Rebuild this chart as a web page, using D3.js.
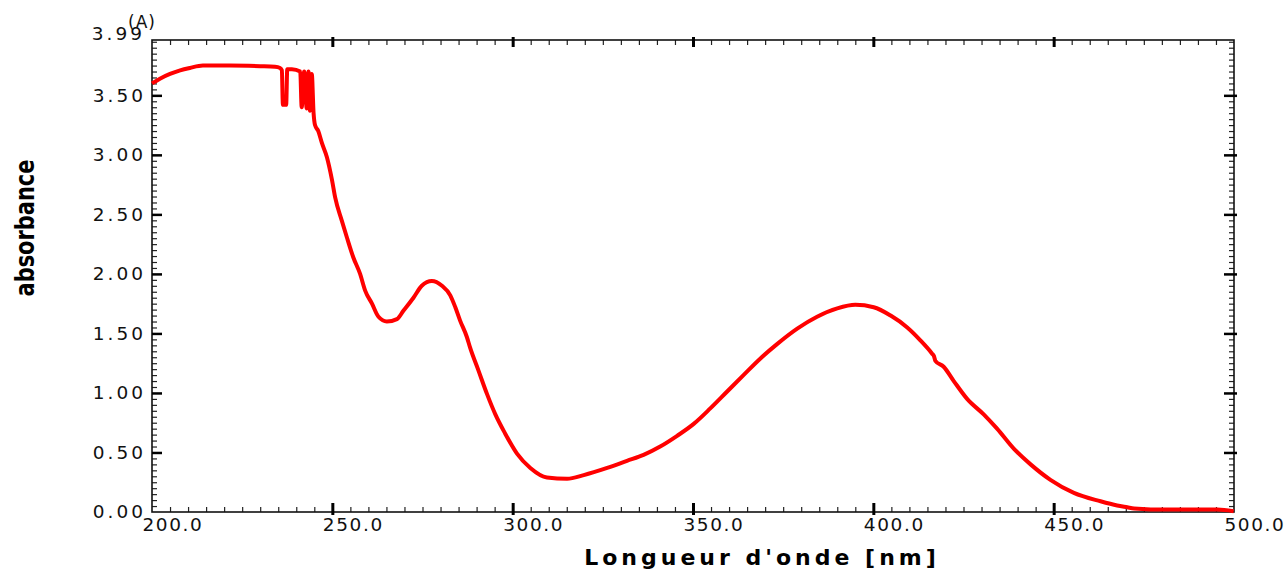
<!DOCTYPE html>
<html>
<head>
<meta charset="utf-8">
<script src="https://cdn.jsdelivr.net/npm/d3@7"></script>
<style>
  body { margin: 0; background: #fff; }
  svg text { font-family: "DejaVu Sans", sans-serif; }
</style>
</head>
<body>
<svg id="chart" width="1284" height="571"></svg>
<script>
// spectrum: wavelength (nm) / absorbance (A)
const wavelength = [
  200.0, 202.2, 205.0, 207.8, 210.5, 214.1, 221.6, 230.0, 234.1, 235.5,
  236.0, 236.3, 237.2, 237.5, 238.8, 241.1, 241.5, 242.2, 242.9, 243.4,
  243.8, 244.3, 244.8, 245.2, 246.1, 247.1, 248.5, 249.9, 250.8, 252.6,
  254.0, 255.8, 257.7, 259.1, 261.0, 262.8, 265.1, 267.9, 269.7, 272.5,
  274.8, 277.6, 280.4, 282.7, 284.1, 285.4, 287.3, 288.2, 290.5, 292.9,
  295.2, 297.9, 301.2, 304.9, 309.5, 315.1, 319.7, 326.2, 331.7, 336.3,
  340.9, 345.6, 350.2, 354.8, 359.4, 364.0, 368.7, 373.3, 378.9, 384.4,
  390.0, 395.0, 400.1, 404.8, 409.4, 413.1, 416.3, 416.8, 417.2, 419.5,
  422.3, 426.0, 430.6, 434.3, 439.0, 443.6, 449.1, 455.6, 463.0, 467.6,
  470.4, 472.3, 481.5, 495.4, 499.9
];
const absorbance = [
  3.60, 3.64, 3.68, 3.71, 3.73, 3.75, 3.75, 3.745, 3.74, 3.73,
  3.71, 3.42, 3.42, 3.72, 3.72, 3.70, 3.40, 3.70, 3.39, 3.70,
  3.37, 3.68, 3.35, 3.25, 3.20, 3.10, 2.98, 2.79, 2.64, 2.45,
  2.31, 2.14, 2.00, 1.86, 1.75, 1.64, 1.60, 1.62, 1.69, 1.80,
  1.90, 1.94, 1.90, 1.82, 1.72, 1.61, 1.47, 1.38, 1.19, 0.99,
  0.82, 0.66, 0.49, 0.37, 0.29, 0.28, 0.31, 0.37, 0.43, 0.48,
  0.55, 0.64, 0.74, 0.87, 1.01, 1.15, 1.29, 1.41, 1.54, 1.64,
  1.71, 1.74, 1.72, 1.65, 1.55, 1.44, 1.33, 1.31, 1.27, 1.22,
  1.10, 0.95, 0.82, 0.70, 0.53, 0.40, 0.27, 0.16, 0.09, 0.055,
  0.04, 0.03, 0.02, 0.02, 0.007
];

const xMajor = [200, 250, 300, 350, 400, 450, 500];
const yMajor = [0, 0.5, 1.0, 1.5, 2.0, 2.5, 3.0, 3.5];
const yTop = 3.99;

const svg = d3.select('#chart');
const plotL = 152, plotR = 1234, plotT = 40, plotB = 512;

const x = d3.scaleLinear().domain([200, 500]).range([plotL, plotR]);
const y = d3.scaleLinear().domain([0, yTop]).range([plotB, 37]);

const xMinor = d3.range(205, 500, 5).filter(v => v % 50 !== 0);
const yMinor = d3.range(1, 80).map(i => +(i * 0.05).toFixed(2))
  .filter(v => Math.round(v * 100) % 50 !== 0 && v < 3.97);

// minor ticks, all four sides, pointing inward
function minorAxis(axis, values, tx, ty) {
  svg.append('g').attr('transform', `translate(${tx},${ty})`)
    .call(axis.tickValues(values).tickSize(-5).tickSizeOuter(0).tickFormat(''))
    .call(g => g.select('.domain').remove())
    .call(g => g.selectAll('.tick line').attr('stroke', '#222').attr('stroke-width', 1.2));
}
minorAxis(d3.axisBottom(x), xMinor, 0, plotB);
minorAxis(d3.axisTop(x), xMinor, 0, plotT);
minorAxis(d3.axisLeft(y), yMinor, plotL, 0);
minorAxis(d3.axisRight(y), yMinor, plotR, 0);

// frame
svg.append('rect')
  .attr('x', plotL).attr('y', plotT)
  .attr('width', plotR - plotL).attr('height', plotB - plotT)
  .attr('fill', 'none').attr('stroke', '#111').attr('stroke-width', 1.6);

// major x ticks + labels (labels sit left-aligned just before the tick)
const gx = svg.append('g').attr('transform', `translate(0,${plotB})`)
  .call(d3.axisBottom(x).tickValues(xMajor).tickSize(-9).tickSizeOuter(0)
    .tickFormat(d3.format('.1f')));
gx.select('.domain').remove();
gx.selectAll('.tick line').attr('y2', -9).attr('y1', 3)
  .attr('stroke', '#000').attr('stroke-width', 3)
  .filter(d => d === 200 || d === 500).remove();
gx.selectAll('.tick text')
  .attr('text-anchor', 'start').attr('x', -10).attr('y', 6).attr('dy', '0.71em')
  .attr('fill', '#111').style('font-size', '18.5px').style('letter-spacing', '1.6px');

const gxt = svg.append('g').attr('transform', `translate(0,${plotT})`)
  .call(d3.axisTop(x).tickValues(xMajor.slice(1, -1)).tickSize(-7).tickSizeOuter(0).tickFormat(''));
gxt.select('.domain').remove();
gxt.selectAll('.tick line').attr('y1', -3).attr('y2', 7).attr('stroke', '#000').attr('stroke-width', 3);

// major y ticks + labels
const gy = svg.append('g').attr('transform', `translate(${plotL},0)`)
  .call(d3.axisLeft(y).tickValues(yMajor).tickSize(-10).tickSizeOuter(0)
    .tickFormat(d3.format('.2f')));
gy.select('.domain').remove();
gy.selectAll('.tick line').attr('x1', 0).attr('x2', 10)
  .attr('stroke', '#000').attr('stroke-width', 2.5)
  .filter(d => d === 0).remove();
gy.selectAll('.tick text')
  .attr('x', -6).attr('fill', '#111')
  .style('font-size', '18.5px').style('letter-spacing', '3px');

svg.append('text')
  .attr('x', plotL - 7).attr('y', 34).attr('dy', '0.32em')
  .attr('text-anchor', 'end').attr('fill', '#111')
  .style('font-size', '18.5px').style('letter-spacing', '3px')
  .text(yTop.toFixed(2));

const gyr = svg.append('g').attr('transform', `translate(${plotR},0)`)
  .call(d3.axisRight(y).tickValues(yMajor.slice(1)).tickSize(-10).tickSizeOuter(0).tickFormat(''));
gyr.select('.domain').remove();
gyr.selectAll('.tick line').attr('x1', 3).attr('x2', -10).attr('stroke', '#000').attr('stroke-width', 2.5);

// unit
svg.append('text')
  .attr('x', 128).attr('y', 22).attr('dy', '0.35em')
  .attr('fill', '#111').style('font-size', '17px').style('letter-spacing', '1px')
  .text('(A)');

// axis titles
svg.append('text')
  .attr('x', 762).attr('y', 565)
  .attr('text-anchor', 'middle').attr('fill', '#000')
  .style('font-size', '22px').style('font-weight', 'bold').style('letter-spacing', '4px')
  .text("Longueur d'onde [nm]");

svg.append('text')
  .attr('transform', 'translate(34,228) rotate(-90)')
  .attr('text-anchor', 'middle').attr('fill', '#000')
  .attr('textLength', 137).attr('lengthAdjust', 'spacingAndGlyphs')
  .style('font-family', '"DejaVu Sans Condensed", "Liberation Sans Narrow", sans-serif')
  .style('font-size', '27px').style('font-weight', 'bold')
  .text('absorbance');

// spectrum
const pts = wavelength.map((w, i) => [w, absorbance[i]]);
svg.append('path')
  .datum(pts)
  .attr('fill', 'none')
  .attr('stroke', '#ff0000')
  .attr('stroke-width', 4)
  .attr('stroke-linejoin', 'round')
  .attr('d', d3.line().curve(d3.curveMonotoneX).x(d => x(d[0])).y(d => y(d[1])));
</script>
</body>
</html>
